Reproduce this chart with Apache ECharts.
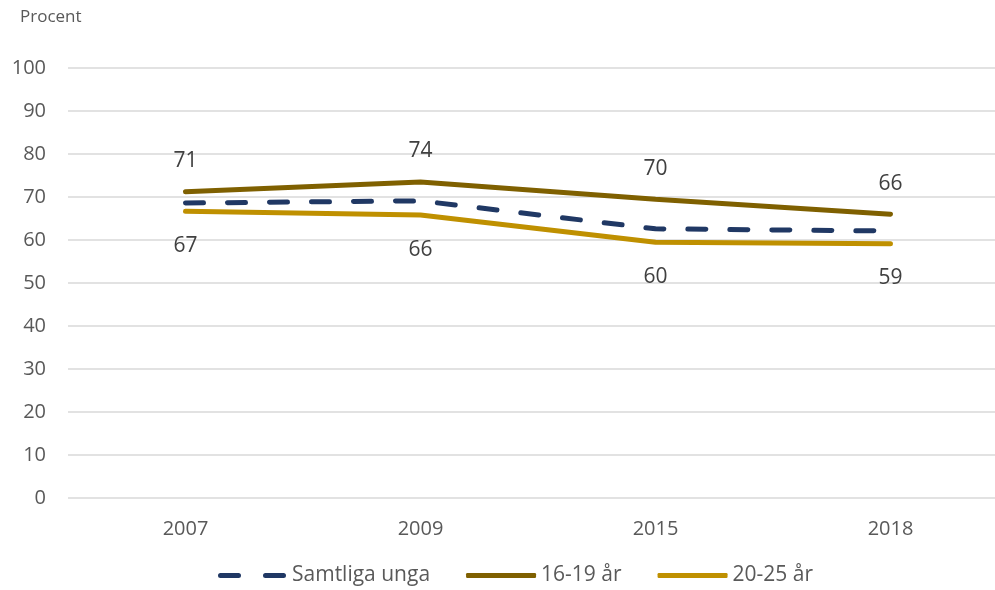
<!DOCTYPE html>
<html>
<head>
<meta charset="utf-8">
<script src="https://cdn.jsdelivr.net/npm/echarts@6/dist/echarts.min.js"></script>
<style>
  html, body { margin: 0; padding: 0; background: #fff; }
  #chart { width: 995px; height: 590px; }
</style>
</head>
<body>
<div id="chart"></div>
<script>
const years = ['2007', '2009', '2015', '2018']
const samtliga = [68.6, 69.1, 62.6, 62.1]
const age1619 = [71.2, 73.5, 69.5, 66.0]
const age2025 = [66.7, 65.8, 59.5, 59.1]

const font = "'Open Sans', 'Noto Sans', sans-serif"
const textColor = '#595959'

const chart = echarts.init(document.getElementById('chart'))

const labelFmt = p => Math.round(p.value)

chart.setOption({
  animation: false,
  textStyle: { fontFamily: font },
  grid: { left: 68, top: 68, width: 940, height: 430, outerBoundsMode: 'none' },
  graphic: [{
    type: 'text',
    left: 20,
    top: 9,
    style: { text: 'Procent', fill: textColor, font: '17px ' + font }
  }],
  legend: {
    top: 565,
    left: 218,
    padding: 0,
    itemWidth: 70,
    itemHeight: 5,
    itemGap: 36,
    textStyle: { color: textColor, fontSize: 21, fontFamily: font },
    data: [
      { name: 'Samtliga unga', icon: 'path://M2.5,0h18a2.5,2.5,0,0,1,0,5h-18a2.5,2.5,0,0,1,0,-5z M47.5,0h18a2.5,2.5,0,0,1,0,5h-18a2.5,2.5,0,0,1,0,-5z' },
      { name: '16-19 år', icon: 'roundRect' },
      { name: '20-25 år', icon: 'roundRect' }
    ]
  },
  xAxis: {
    type: 'category',
    data: years,
    axisLine: { show: false },
    axisTick: { show: false },
    axisLabel: { color: textColor, fontSize: 20, margin: 21 }
  },
  yAxis: {
    type: 'value',
    min: 0,
    max: 100,
    interval: 10,
    axisLabel: { color: textColor, fontSize: 20, margin: 22 },
    splitLine: { lineStyle: { color: '#d9d9d9', width: 1.5 } }
  },
  series: [{
    name: 'Samtliga unga',
    type: 'line',
    data: samtliga,
    symbol: 'none',
    itemStyle: { color: '#203864' },
    lineStyle: { color: '#203864', width: 5, type: [18, 24], cap: 'round' }
  }, {
    name: '16-19 år',
    type: 'line',
    data: age1619,
    symbol: 'circle',
    symbolSize: 0,
    showSymbol: true,
    itemStyle: { color: '#7f6000' },
    lineStyle: { color: '#7f6000', width: 5, cap: 'round' },
    label: {
      show: true,
      position: 'top',
      distance: 20,
      color: '#404040',
      fontSize: 21,
      formatter: labelFmt
    }
  }, {
    name: '20-25 år',
    type: 'line',
    data: age2025,
    symbol: 'circle',
    symbolSize: 0,
    showSymbol: true,
    itemStyle: { color: '#bf9000' },
    lineStyle: { color: '#bf9000', width: 5, cap: 'round' },
    label: {
      show: true,
      position: 'bottom',
      distance: 24,
      color: '#404040',
      fontSize: 21,
      formatter: labelFmt
    }
  }]
})
</script>
</body>
</html>
